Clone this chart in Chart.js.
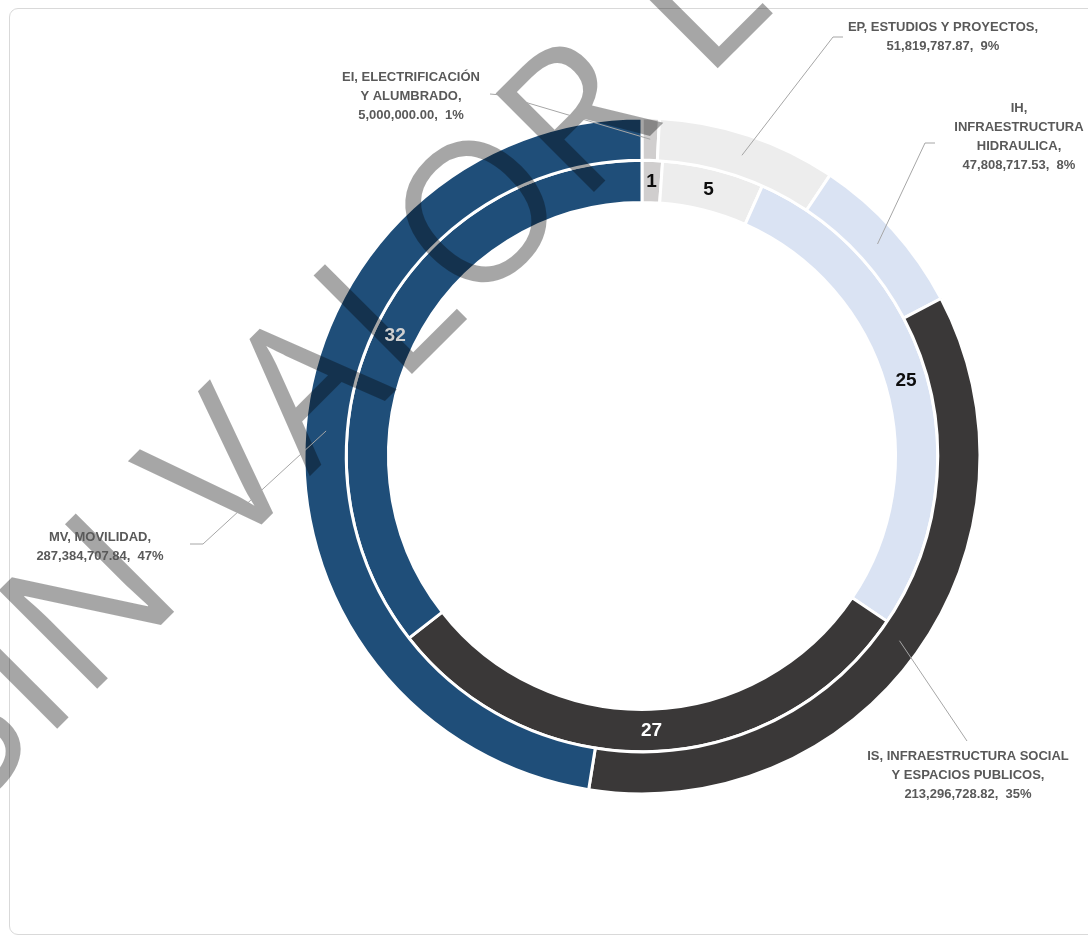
<!DOCTYPE html>
<html>
<head>
<meta charset="utf-8">
<script src="https://cdn.jsdelivr.net/npm/chart.js@4.4.0/dist/chart.umd.min.js"></script>
<style>
  html, body { margin: 0; padding: 0; background: #fff; }
  #wrap { position: relative; width: 1088px; height: 939px; overflow: hidden; }
  #frame { position: absolute; left: 9px; top: 8px; width: 1110px; height: 927px;
           border: 1px solid #d9d9d9; border-radius: 9px; box-sizing: border-box; }
  #box { position: absolute; left: 0; top: 0; width: 1088px; height: 939px; }
</style>
</head>
<body>
<div id="wrap">
  <div id="frame"></div>
  <div id="box"><canvas id="chart"></canvas></div>
</div>
<script>
// Data
const codes = ['EI', 'EP', 'IH', 'IS', 'MV'];
const nameLines = [
    ['EI, ELECTRIFICACIÓN', 'Y ALUMBRADO,'],
    ['EP, ESTUDIOS Y PROYECTOS,'],
    ['IH,', 'INFRAESTRUCTURA', 'HIDRAULICA,'],
    ['IS, INFRAESTRUCTURA SOCIAL', 'Y ESPACIOS PUBLICOS,'],
    ['MV, MOVILIDAD,']
];
const amounts = [5000000.00, 51819787.87, 47808717.53, 213296728.82, 287384707.84];
const counts = [1, 5, 25, 27, 32];
const colors = ['#D0CECE', '#EDEDED', '#DAE3F3', '#3A3838', '#1F4E79'];
const countColors = ['#0d0d0d', '#0d0d0d', '#0d0d0d', '#ffffff', '#d0d0d0'];
const watermark = 'SIN VALOR LEGAL';

// where the outer labels sit (text centre x, first line y, elbow of the leader line)
const labelLayout = [
    { x: 411, y: 77, elbow: [[490, 94], [501, 95]] },
    { x: 943, y: 27, elbow: [[843, 37], [833, 37]] },
    { x: 1019, y: 108, elbow: [[935, 143], [925, 143]] },
    { x: 968, y: 756, elbow: [[967, 741]] },
    { x: 100, y: 537, elbow: [[190, 544], [203, 544]] }
];

const total = amounts.reduce((a, b) => a + b, 0);
const fmt = v => v.toLocaleString('en-US', { minimumFractionDigits: 2, maximumFractionDigits: 2 });

function drawWatermark(ctx) {
    ctx.save();
    ctx.font = '400 195px "Open Sans"';
    ctx.letterSpacing = '2px';
    ctx.fillStyle = 'rgba(0,0,0,0.35)';
    ctx.textAlign = 'left';
    ctx.textBaseline = 'alphabetic';
    const a = -Math.PI / 4;
    const pre = ctx.measureText('SIN ').width + ctx.measureText('V').width / 2;
    ctx.translate(268 - pre * Math.cos(a), 518 - pre * Math.sin(a));
    ctx.rotate(a);
    ctx.fillText(watermark, 0, 0);
    ctx.restore();
}

const labelPlugin = {
    id: 'labels',
    afterDraw(chart) {
        const ctx = chart.ctx;
        drawWatermark(ctx);

        // inner ring counts
        const inner = chart.getDatasetMeta(1).data;
        ctx.save();
        ctx.font = 'bold 19px "Liberation Sans", Arial, sans-serif';
        ctx.textAlign = 'center';
        ctx.textBaseline = 'middle';
        inner.forEach((arc, i) => {
            const p = arc.getCenterPoint();
            ctx.fillStyle = countColors[i];
            ctx.fillText(String(counts[i]), p.x, p.y);
        });
        ctx.restore();

        // outer ring labels with leader lines
        const outer = chart.getDatasetMeta(0).data;
        ctx.save();
        outer.forEach((arc, i) => {
            const p = arc.getCenterPoint();
            const lay = labelLayout[i];
            ctx.strokeStyle = '#a6a6a6';
            ctx.lineWidth = 1;
            ctx.beginPath();
            ctx.moveTo(lay.elbow[0][0], lay.elbow[0][1]);
            lay.elbow.slice(1).forEach(pt => ctx.lineTo(pt[0], pt[1]));
            ctx.lineTo(p.x, p.y);
            ctx.stroke();

            const pct = Math.round(amounts[i] / total * 100);
            const lines = nameLines[i].concat([fmt(amounts[i]) + ',  ' + pct + '%']);
            ctx.font = 'bold 13px "Liberation Sans", Arial, sans-serif';
            ctx.fillStyle = '#595959';
            ctx.textAlign = 'center';
            ctx.textBaseline = 'middle';
            lines.forEach((t, k) => ctx.fillText(t, lay.x, lay.y + k * 19));
        });
        ctx.restore();
    }
};

new Chart(document.getElementById('chart'), {
    type: 'doughnut',
    data: {
        labels: codes,
        datasets: [
            { label: 'Monto', data: amounts, backgroundColor: colors, borderColor: '#ffffff', borderWidth: 3 },
            { label: 'Obras', data: counts, backgroundColor: colors, borderColor: '#ffffff', borderWidth: 3 }
        ]
    },
    options: {
        responsive: true,
        maintainAspectRatio: false,
        animation: false,
        radius: 338,
        cutout: '75%',
        layout: { padding: { left: 304, right: 108, top: 118, bottom: 145 } },
        plugins: {
            legend: { display: false },
            tooltip: { enabled: false }
        }
    },
    plugins: [labelPlugin]
});
</script>
</body>
</html>
